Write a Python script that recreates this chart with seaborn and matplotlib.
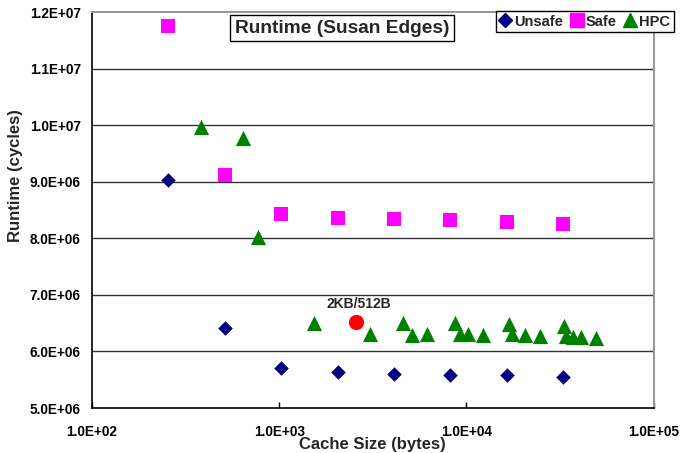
import matplotlib
matplotlib.use("Agg")
import matplotlib.pyplot as plt
import seaborn as sns
import pandas as pd
from matplotlib.ticker import FuncFormatter, FixedLocator, NullLocator
from matplotlib.lines import Line2D

# cache sizes (bytes) and runtimes (cycles)
unsafe_x = [256, 512, 1024, 2048, 4096, 8192, 16384, 32768]
unsafe_y = [9.03e6, 6.41e6, 5.71e6, 5.63e6, 5.61e6, 5.59e6, 5.58e6, 5.55e6]

safe_x = [256, 512, 1024, 2048, 4096, 8192, 16384, 32768]
safe_y = [11.75e6, 9.12e6, 8.43e6, 8.36e6, 8.34e6, 8.32e6, 8.29e6, 8.25e6]

hpc_x = [384, 640, 768, 1536, 3072, 4608, 5120, 6144, 8704, 9216, 10240,
         12288, 16896, 17408, 20480, 24576, 33280, 33792, 36864, 40960, 49152]
hpc_y = [9.97e6, 9.77e6, 8.02e6, 6.50e6, 6.31e6, 6.50e6, 6.29e6, 6.31e6,
         6.50e6, 6.31e6, 6.31e6, 6.29e6, 6.48e6, 6.31e6, 6.29e6, 6.27e6,
         6.45e6, 6.27e6, 6.26e6, 6.26e6, 6.24e6]

pick_x = [2560]
pick_y = [6.52e6]
pick_label = "2KB/512B"

x_ticks = [1e2, 1e3, 1e4, 1e5]
y_ticks = [5e6, 6e6, 7e6, 8e6, 9e6, 10e6, 11e6, 12e6]

sns.set_theme(style="white")
plt.rcParams['font.family'] = ['Liberation Sans', 'DejaVu Sans']
plt.rcParams['font.weight'] = 'bold'

fig = plt.figure(figsize=(6.81, 4.53), dpi=100)
ax = fig.add_axes([0.135, 0.0993, 0.825, 0.8742])

for gy in y_ticks[1:-1]:
    ax.axhline(gy, color='#333333', lw=1.0, zorder=0)

series = [
    (unsafe_x, unsafe_y, 'D', '#000080', 55, 'Unsafe'),
    (safe_x, safe_y, 's', '#FF00FF', 115, 'Safe'),
    (hpc_x, hpc_y, '^', '#008000', 120, 'HPC'),
]
for xs, ys, mk, col, size, name in series:
    df = pd.DataFrame({'size': xs, 'runtime': ys})
    sns.scatterplot(data=df, x='size', y='runtime', marker=mk, color=col,
                    s=size, linewidth=0, ax=ax, zorder=3, legend=False)

pick = pd.DataFrame({'size': pick_x, 'runtime': pick_y})
sns.scatterplot(data=pick, x='size', y='runtime', marker='o', color='#FF0000',
                s=120, linewidth=0, ax=ax, zorder=4, legend=False)
ax.annotate(pick_label, (pick_x[0], pick_y[0]), xytext=(2, 8),
            textcoords='offset points', ha='center', va='bottom',
            fontsize=10, fontweight='bold')

ax.set_xscale('log')
ax.set_xlim(1e2, 1e5)
ax.set_ylim(5e6, 12e6)
ax.xaxis.set_major_locator(FixedLocator(x_ticks))
ax.xaxis.set_minor_locator(NullLocator())
ax.yaxis.set_major_locator(FixedLocator(y_ticks))
fmt = FuncFormatter(lambda v, p: f"{v:.1E}")
ax.xaxis.set_major_formatter(fmt)
ax.yaxis.set_major_formatter(fmt)
ax.tick_params(axis='x', direction='in', length=4, width=1, pad=12,
               labelsize=9.8, colors='black', bottom=True)
ax.tick_params(axis='y', direction='out', length=0, width=1, pad=8,
               labelsize=9.8, colors='black', left=True)
for lab in ax.get_xticklabels() + ax.get_yticklabels():
    lab.set_fontweight('bold')

ax.set_xlabel('Cache Size (bytes)', fontsize=12, fontweight='bold')
ax.set_ylabel('Runtime (cycles)', fontsize=12, fontweight='bold')
ax.xaxis.set_label_coords(0.5, -0.073)
ax.yaxis.set_label_coords(-0.123, 0.586)

for side in ['left', 'bottom']:
    ax.spines[side].set_color('black')
    ax.spines[side].set_linewidth(1.2)
for side in ['top', 'right']:
    ax.spines[side].set_color('#999999')
    ax.spines[side].set_linewidth(1.5)

fig.text(0.502, 0.938, 'Runtime (Susan Edges)', ha='center', va='center',
         fontsize=13.8, fontweight='bold',
         bbox=dict(boxstyle='square,pad=0.25', fc='white', ec='black', lw=1))

handles = [
    Line2D([], [], marker='D', color='#000080', ls='', ms=7),
    Line2D([], [], marker='s', color='#FF00FF', ls='', ms=10),
    Line2D([], [], marker='^', color='#008000', ls='', ms=10),
]
leg = fig.legend(handles, ['Unsafe', 'Safe', 'HPC'], ncol=3,
                 loc='upper left', bbox_to_anchor=(0.728, 0.976),
                 frameon=True, fancybox=False, framealpha=1,
                 edgecolor='black', fontsize=10.5, handlelength=0.8,
                 handletextpad=0.2, columnspacing=0.55, borderpad=0.25,
                 borderaxespad=0)
leg.get_frame().set_linewidth(1)
for t in leg.get_texts():
    t.set_fontweight('bold')

fig.savefig('out.png', dpi=100)
